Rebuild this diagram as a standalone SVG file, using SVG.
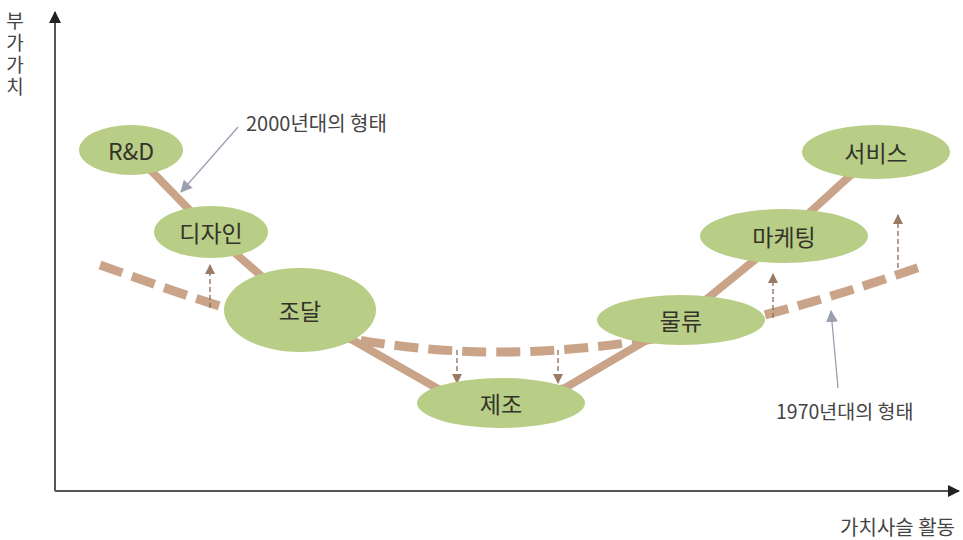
<svg xmlns="http://www.w3.org/2000/svg" width="963" height="540" viewBox="0 0 963 540">
<style>
text{font-family:"Noto Sans CJK KR","Noto Sans",sans-serif;}
.node ellipse{fill:#b8cd86;}
.node text{font-size:23px;fill:#33332a;text-anchor:middle;dominant-baseline:central;}
.lbl{fill:#444;}
.axis{stroke:#555;stroke-width:2;fill:none;}
.curve{stroke:#c9a489;stroke-width:8;fill:none;}
.dcurve{stroke:#c9a489;stroke-width:9;fill:none;stroke-dasharray:24 10;}
.shift{stroke:#8a6a55;stroke-width:1.3;fill:none;stroke-dasharray:5 3;}
.ptr{stroke:#9aa0b0;stroke-width:1.3;fill:none;}
</style>
<defs>
<marker id="axh" markerWidth="12" markerHeight="12" refX="11" refY="6" orient="auto" markerUnits="userSpaceOnUse"><path d="M0,0 L12,6 L0,12 Z" fill="#222"/></marker>
<marker id="sh" markerWidth="10" markerHeight="10" refX="9" refY="5" orient="auto" markerUnits="userSpaceOnUse"><path d="M0,0 L10,5 L0,10 Z" fill="#9a7a63"/></marker>
<marker id="ph" markerWidth="12" markerHeight="12" refX="11" refY="6" orient="auto" markerUnits="userSpaceOnUse"><path d="M0,0 L12,6 L0,12 Z" fill="#9aa0b0"/></marker>
</defs>
<g id="axes">
<path class="axis" d="M55,491 L55,12" marker-end="url(#axh)"/>
<path class="axis" d="M55,491 L959,491" marker-end="url(#axh)"/>
<text class="lbl" x="15" y="11" style="writing-mode:vertical-rl;text-orientation:upright;letter-spacing:3px" font-size="19">부가가치</text>
<text class="lbl" x="955" y="526" text-anchor="end" dominant-baseline="central" font-size="20">가치사슬 활동</text>
</g>
<g id="connectors">
<path class="dcurve" d="M100,265 C200,300 330,352 500,352 C650,352 790,312 920,267"/>
<path class="curve" d="M131,150 L211,232 L300,310 L440,390 L501,403 L565,388 L681,320 L784,236 L876,152"/>
<path class="shift" d="M210,308 L210,265" marker-end="url(#sh)"/>
<path class="shift" d="M457,350 L457,383" marker-end="url(#sh)"/>
<path class="shift" d="M558,350 L558,383" marker-end="url(#sh)"/>
<path class="shift" d="M773,318 L773,274" marker-end="url(#sh)"/>
<path class="shift" d="M898,268 L898,215" marker-end="url(#sh)"/>
<path class="ptr" d="M238,127 L181,192" marker-end="url(#ph)"/>
<path class="ptr" d="M838,388 L831,311" marker-end="url(#ph)"/>
</g>
<g id="node-rd" class="node"><ellipse cx="131" cy="150" rx="52" ry="25"/><text x="131" y="150">R&amp;D</text></g>
<g id="node-design" class="node"><ellipse cx="211" cy="232" rx="57" ry="26"/><text x="211" y="232">디자인</text></g>
<g id="node-procure" class="node"><ellipse cx="300" cy="310" rx="76" ry="42"/><text x="300" y="310">조달</text></g>
<g id="node-manuf" class="node"><ellipse cx="501" cy="403" rx="84" ry="25"/><text x="501" y="403">제조</text></g>
<g id="node-logi" class="node"><ellipse cx="681" cy="320" rx="84" ry="25"/><text x="681" y="320">물류</text></g>
<g id="node-mkt" class="node"><ellipse cx="784" cy="236" rx="84" ry="27"/><text x="784" y="236">마케팅</text></g>
<g id="node-svc" class="node"><ellipse cx="876" cy="152" rx="74" ry="27"/><text x="876" y="152">서비스</text></g>
<g id="labels">
<text class="lbl" x="246" y="122" dominant-baseline="central" font-size="20">2000년대의 형태</text>
<text class="lbl" x="776" y="410" dominant-baseline="central" font-size="19.5">1970년대의 형태</text>
</g>
</svg>
